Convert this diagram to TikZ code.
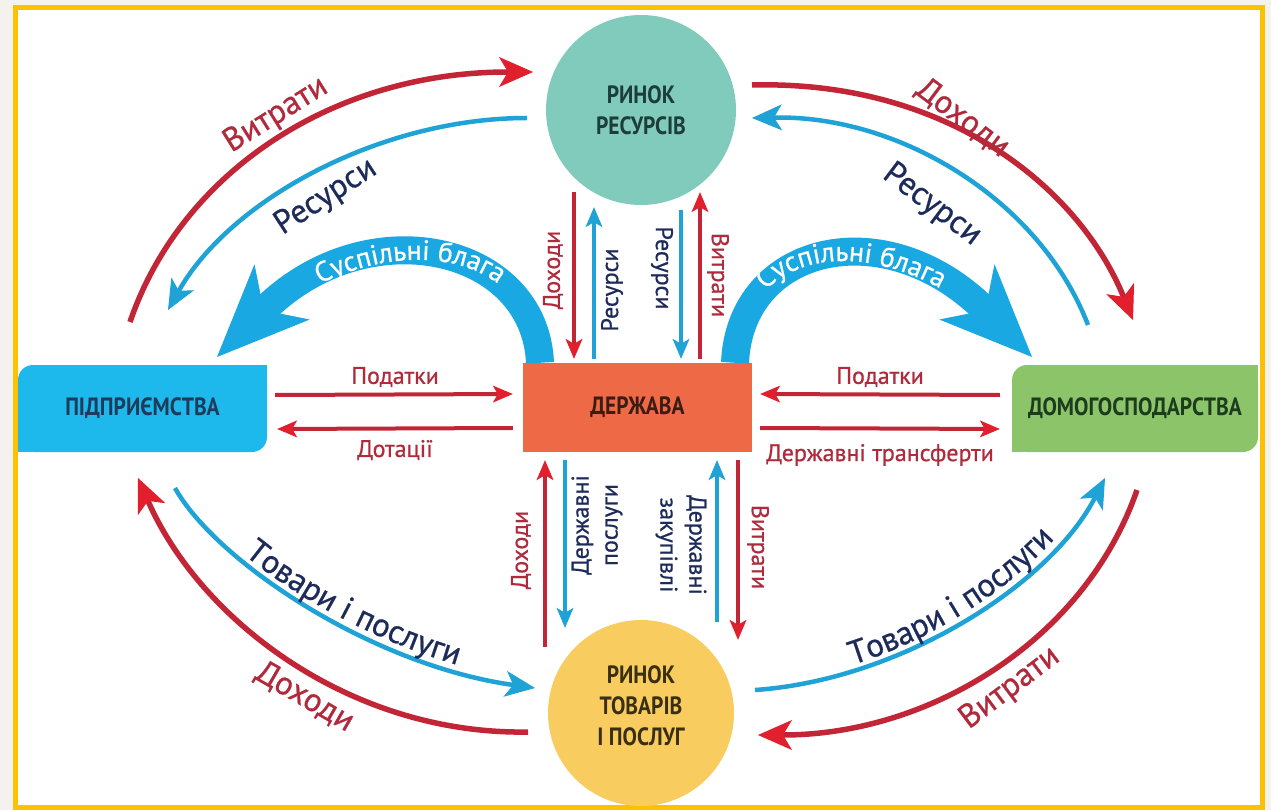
\documentclass[tikz,border=0pt]{standalone}
\usepackage{fontspec}
\setmainfont{PT Sans}
\newfontfamily\condfont[FakeStretch=0.86]{PT Sans}
\newfontfamily\semifont[FakeBold=0.7]{PT Sans}
\usetikzlibrary{arrows.meta,decorations.text,calc}
\definecolor{cOut}{HTML}{F4F2EF}
\definecolor{cFrame}{HTML}{FFC000}
\definecolor{cTeal}{HTML}{80CBBC}
\definecolor{cYel}{HTML}{F8CC5E}
\definecolor{cGov}{HTML}{EE6A47}
\definecolor{cFirm}{HTML}{1DB9EC}
\definecolor{cHouse}{HTML}{8CC46A}
\definecolor{cRed}{HTML}{C22636}
\definecolor{cRedTip}{HTML}{E11F2D}
\definecolor{cBlue}{HTML}{1FA3D6}
\definecolor{cBand}{HTML}{1AA8E2}
\definecolor{cRedTxt}{HTML}{B02A3C}
\definecolor{cNavy}{HTML}{1D2B5B}
\definecolor{cTealTxt}{HTML}{1E3D3A}
\definecolor{cYelTxt}{HTML}{3A2F12}
\definecolor{cGovTxt}{HTML}{3B1C14}
\definecolor{cFirmTxt}{HTML}{1F3B5A}
\definecolor{cHouseTxt}{HTML}{1D3B1D}
\newcommand{\nodefnt}{\condfont\bfseries\fontsize{25}{31}\selectfont}
\newcommand{\lblfnt}{\semifont\fontsize{24}{29}\selectfont}
\newcommand{\arcfnt}{\semifont\fontsize{33}{36}\selectfont}
\newcommand{\bandfnt}{\semifont\fontsize{28}{32}\selectfont}
\tikzset{
  redarc/.style={draw=cRed, line width=5.5pt, -{Stealth[length=34pt,width=30pt,inset=9pt,line width=1pt,color=cRedTip]}},
  bluearc/.style={draw=cBlue, line width=4.5pt, -{Stealth[length=30pt,width=26pt,inset=8pt,line width=1pt]}},
  redline/.style={draw=cRed, line width=4pt, -{Stealth[length=20pt,width=17pt,inset=5pt,line width=1pt,color=cRedTip]}},
  blueline/.style={draw=cBlue, line width=4pt, -{Stealth[length=20pt,width=17pt,inset=5pt,line width=1pt]}},
  band/.style={draw=cBand, line width=28pt, -{Stealth[length=92pt,width=78pt,inset=26pt,line width=1pt]}},
  redlbl/.style={text=cRedTxt, font=\lblfnt, inner sep=0pt},
  bluelbl/.style={text=cNavy, font=\lblfnt, inner sep=0pt, align=center},
  redarclbl/.style={text=cRedTxt, font=\arcfnt, inner sep=0pt},
  bluearclbl/.style={text=cNavy, font=\arcfnt, inner sep=0pt},
  box/.style={font=\nodefnt, inner sep=0pt, align=center}
}
\begin{document}
\begin{tikzpicture}[x=1pt,y=-1pt]
\useasboundingbox (0,0) rectangle (1271,810);
\fill[cOut] (0,0) rectangle (1271,810);
\fill[white] (15,7.5) rectangle (1262,807.5);
\draw[cFrame, line width=5pt] (15,7.5) rectangle (1262,807.5);

% nodes
\node[box, circle, fill=cTeal, minimum size=190pt, text=cTealTxt] (rr) at (641,110) {РИНОК\\РЕСУРСІВ};
\node[circle, fill=cYel, minimum size=186pt] (rt) at (641,713) {};
\node[box, text=cYelTxt] (rtt) at ($(rt.center)+(0,-7)$) {РИНОК\\ТОВАРІВ\\І ПОСЛУГ};
\node[box, fill=cGov, minimum width=229pt, minimum height=89pt, text=cGovTxt] (gov) at (637.5,407.5) {ДЕРЖАВА};
\node[box, fill=cFirm, rounded corners=15pt, minimum width=249pt, minimum height=87pt, text=cFirmTxt] (firm) at (142.5,408.5) {ПІДПРИЄМСТВА};
\fill[cFirm] (firm.north east) rectangle ++(-20,20);
\fill[cFirm] (firm.south west) rectangle ++(20,-20);
\node[box, fill=cHouse, rounded corners=15pt, minimum width=246pt, minimum height=87pt, text=cHouseTxt] (house) at (1135,408.5) {ДОМОГОСПОДАРСТВА};
\fill[cHouse] (house.north east) rectangle ++(-20,20);
\fill[cHouse] (house.south west) rectangle ++(20,-20);

% thick bands
\draw[band] ($(gov.north)+(-97.5,0)$) .. controls (535,245) and (367,207) .. (217,357) coordinate (bandL);
\draw[band] ($(gov.north)+(97.5,0)$) .. controls (740,245) and (885,210) .. (1032,357) coordinate (bandR);
\path[decorate, decoration={text along path, text align={align=center, left indent=34pt}, raise=-1pt,
  text={|\bandfnt\color{white}|Суспільні блага}}]
  (217,357) .. controls (367,207) and (535,245) .. ($(gov.north)+(-97.5,0)$);
\path[decorate, decoration={text along path, text align={align=center, right indent=34pt}, raise=-1pt,
  text={|\bandfnt\color{white}|Суспільні блага}}]
  ($(gov.north)+(97.5,0)$) .. controls (740,245) and (885,210) .. (1032,357);

% outer arcs
\coordinate (a1s) at (130,322); \coordinate (a1e) at (533,72);
\draw[redarc] (a1s) .. controls (180,175) and (330,72) .. (a1e);
\coordinate (a2s) at (527,118); \coordinate (a2e) at (168,310);
\draw[bluearc] (a2s) .. controls (380,118) and (230,200) .. (a2e);
\coordinate (a3s) at (752,85); \coordinate (a3e) at (1133,320);
\draw[redarc] (a3s) .. controls (950,80) and (1080,190) .. (a3e);
\coordinate (a4s) at (1088,325); \coordinate (a4e) at (752,118);
\draw[bluearc] (a4s) .. controls (1040,200) and (900,115) .. (a4e);
\coordinate (a5s) at (175,488); \coordinate (a5e) at (535,688);
\draw[bluearc] (a5s) .. controls (215,560) and (370,665) .. (a5e);
\coordinate (a6s) at (528,732); \coordinate (a6e) at (138,478);
\draw[redarc] (a6s) .. controls (350,735) and (200,620) .. (a6e);
\coordinate (a7s) at (755,690); \coordinate (a7e) at (1105,478);
\draw[bluearc] (a7s) .. controls (900,680) and (1050,585) .. (a7e);
\coordinate (a8s) at (1137,490); \coordinate (a8e) at (758,735);
\draw[redarc] (a8s) .. controls (1085,640) and (930,735) .. (a8e);

\node[redarclbl, rotate=32] at (276,115) {Витрати};
\node[bluearclbl, rotate=33] at (326,197) {Ресурси};
\node[redarclbl, rotate=-37] at (963,118) {Доходи};
\node[bluearclbl, rotate=-37] at (932,205) {Ресурси};
\path[decorate, decoration={text along path, text align={align=center, left indent=16pt}, raise=6pt,
  text={|\arcfnt\color{cNavy}|Товари і послуги}}]
  (a5s) .. controls (215,560) and (370,665) .. (a5e);
\node[redarclbl, rotate=-30] at (305,697) {Доходи};
\path[decorate, decoration={text along path, text align={align=center, left indent=22pt}, raise=6pt,
  text={|\arcfnt\color{cNavy}|Товари і послуги}}]
  (a7s) .. controls (900,680) and (1050,585) .. (a7e);
\node[redarclbl, rotate=37] at (1010,688) {Витрати};

% horizontal arrows
\draw[redline] ($(firm.east)+(8,-13.5)$) -- ($(gov.west)+(-10,-13.5)$);
\draw[redline] ($(gov.west)+(-10,20.5)$) -- ($(firm.east)+(10,20.5)$);
\draw[redline] ($(house.west)+(-12,-13.5)$) -- ($(gov.east)+(8,-13.5)$);
\draw[redline] ($(gov.east)+(8,20.5)$) -- ($(house.west)+(-12,20.5)$);
\node[redlbl] at (395,377) {Податки};
\node[redlbl] at (395,450) {Дотації};
\node[redlbl] at (880,377) {Податки};
\node[redlbl] at (880,455) {Державні трансферти};

% vertical arrows top
\draw[redline] ($(rr.south)+(-67,-13)$) -- ($(gov.north)+(-63.5,-4)$);
\draw[blueline] ($(gov.north)+(-43.5,-4)$) -- ($(rr.south)+(-47,2)$);
\draw[blueline] ($(rr.south)+(40,5)$) -- ($(gov.north)+(43.5,-4)$);
\draw[redline] ($(gov.north)+(62.5,-4)$) -- ($(rr.south)+(59,-13)$);
\node[redlbl, rotate=90] at (553,270) {Доходи};
\node[bluelbl, rotate=90] at (612,290) {Ресурси};
\node[bluelbl, rotate=-90] at (662,268) {Ресурси};
\node[redlbl, rotate=-90] at (718,275) {Витрати};

% vertical arrows bottom
\draw[redline] ($(rt.north)+(-96,27)$) -- ($(gov.south)+(-92.5,8)$);
\draw[blueline] ($(gov.south)+(-72.5,8)$) -- ($(rt.north)+(-76,8)$);
\draw[blueline] ($(rt.north)+(76,2)$) -- ($(gov.south)+(79.5,8)$);
\draw[redline] ($(gov.south)+(100.5,8)$) -- ($(rt.north)+(97,20)$);
\node[redlbl, rotate=90] at (521,550) {Доходи};
\node[bluelbl, rotate=90] at (597,525) {Державні\\послуги};
\node[bluelbl, rotate=-90] at (681,545) {Державні\\закупівлі};
\node[redlbl, rotate=-90] at (758,547) {Витрати};
\end{tikzpicture}
\end{document}
